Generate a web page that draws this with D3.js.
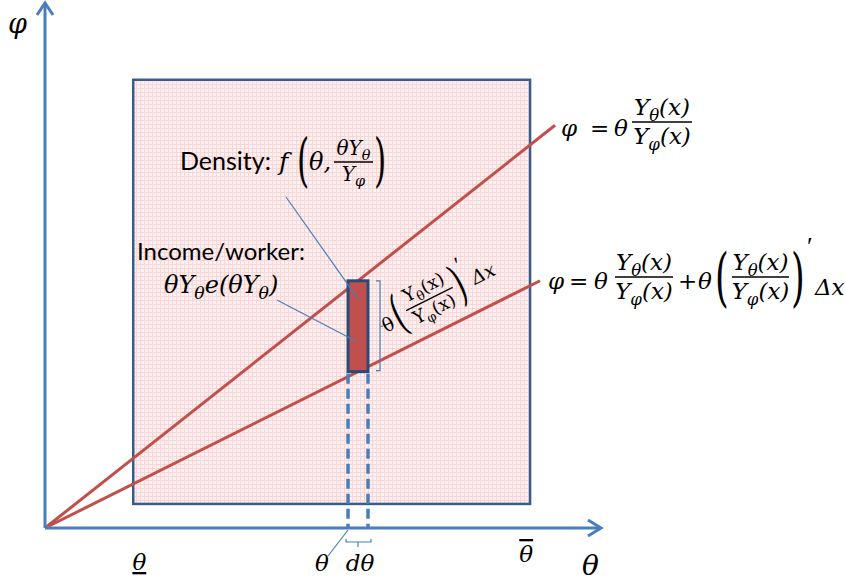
<!DOCTYPE html>
<html>
<head>
<meta charset="utf-8">
<script src="https://cdn.jsdelivr.net/npm/d3@7"></script>
<style>
  body { margin: 0; background: #fff; }
  svg { display: block; }
</style>
</head>
<body>
<svg width="846" height="583"></svg>
<script>
// diagram values (theta / phi units)
var thetaDomain = [0, 10];
var phiDomain = [0, 10];
var boxTheta = [1.59, 8.74];
var boxPhi = [0.46, 8.57];
var rayNames = ['base', 'shifted'];
var raySlopes = [0.838, 0.53];
var rayEndTheta = [9.19, 8.92];
var sliceTheta = [5.46, 5.82];
var tickTheta = [1.70, 8.67];
var tickLabels = ['θ', 'θ'];
var tickDecor = ['underline', 'overline'];

var svg = d3.select('svg'),
  width = +svg.attr('width'),
  height = +svg.attr('height');

var x = d3.scaleLinear().domain(thetaDomain).range([45, 600]);
var y = d3.scaleLinear().domain(phiDomain).range([528, 5]);

var blue = '#4a7ebb', red = '#c0504d', navy = '#385d8a';
var mathFont = 'DejaVu Serif', textFont = 'Lato';

// pink small-grid fill
var defs = svg.append('defs');
var pat = defs.append('pattern')
  .attr('id', 'grid')
  .attr('width', 4).attr('height', 4)
  .attr('patternUnits', 'userSpaceOnUse');
pat.append('rect').attr('width', 4).attr('height', 4).attr('fill', '#fdf0f0');
pat.append('path').attr('d', 'M0,0.5H4M0.5,0V4')
  .attr('stroke', '#f6d6d6').attr('stroke-width', 1);

// box
svg.append('rect')
  .attr('x', x(boxTheta[0]))
  .attr('y', y(boxPhi[1]))
  .attr('width', x(boxTheta[1]) - x(boxTheta[0]))
  .attr('height', y(boxPhi[0]) - y(boxPhi[1]))
  .attr('fill', 'url(#grid)')
  .attr('stroke', navy)
  .attr('stroke-width', 2.5);

// rays from the origin
svg.append('g')
  .selectAll('line')
  .data(rayNames)
  .enter()
  .append('line')
  .attr('x1', x(0)).attr('y1', y(0))
  .attr('x2', function (d, i) { return x(rayEndTheta[i]); })
  .attr('y2', function (d, i) { return y(rayEndTheta[i] * raySlopes[i]); })
  .attr('stroke', red)
  .attr('stroke-width', 3);

// slice
var mid = (sliceTheta[0] + sliceTheta[1]) / 2;
var sliceTop = y(mid * raySlopes[0]), sliceBot = y(mid * raySlopes[1]);

svg.append('g')
  .selectAll('line')
  .data(sliceTheta)
  .enter()
  .append('line')
  .attr('x1', function (d) { return x(d); })
  .attr('x2', function (d) { return x(d); })
  .attr('y1', sliceBot + 2)
  .attr('y2', y(0))
  .attr('stroke', blue)
  .attr('stroke-width', 3.5)
  .attr('stroke-dasharray', '10,5');

svg.append('rect')
  .attr('x', x(sliceTheta[0]))
  .attr('y', sliceTop)
  .attr('width', x(sliceTheta[1]) - x(sliceTheta[0]))
  .attr('height', sliceBot - sliceTop)
  .attr('fill', red)
  .attr('stroke', '#2a4a78')
  .attr('stroke-width', 3);

// axes with open arrow heads
var ax = svg.append('g').attr('stroke', blue).attr('stroke-width', 3).attr('fill', 'none');
ax.append('line').attr('x1', x(0)).attr('y1', y(0)).attr('x2', x(10)).attr('y2', y(0));
ax.append('line').attr('x1', x(0)).attr('y1', y(0)).attr('x2', x(0)).attr('y2', y(10) - 2);
ax.append('path').attr('d', 'M' + (x(10) - 12) + ',' + (y(0) - 8) + 'L' + (x(10) + 1) + ',' + y(0) + 'L' + (x(10) - 12) + ',' + (y(0) + 8));
ax.append('path').attr('d', 'M' + (x(0) - 8) + ',' + (y(10) + 10) + 'L' + x(0) + ',' + (y(10) - 2) + 'L' + (x(0) + 8) + ',' + (y(10) + 10));

// thin brackets and leader lines
var thin = svg.append('g').attr('stroke', blue).attr('stroke-width', 1.2).attr('fill', 'none');
var bx = x(sliceTheta[1]) + 8;
thin.append('path').attr('d', 'M' + (bx) + ',' + sliceTop + 'h4V' + (sliceBot - 1) + 'h-4M' + (bx + 4) + ',' + ((sliceTop + sliceBot) / 2) + 'h3');
thin.append('path').attr('d', 'M' + (x(sliceTheta[0]) - 2) + ',539v3H' + (x(sliceTheta[1]) + 3) + 'v-3M' + (x(mid)) + ',542v5');
thin.append('line').attr('x1', 286).attr('y1', 197).attr('x2', x(mid)).attr('y2', sliceTop + 18);
thin.append('line').attr('x1', 277).attr('y1', 300).attr('x2', x(mid) - 1).attr('y2', sliceBot - 30);
thin.append('line').attr('x1', 328).attr('y1', 556).attr('x2', x(sliceTheta[0])).attr('y2', y(0) + 2);

// math text helper: "Y_{θ}(x)" -> subscripts
function math(g, px, py, str, size, opts) {
  opts = opts || {};
  var t = g.append('text')
    .attr('x', px).attr('y', py)
    .attr('font-family', opts.font || mathFont)
    .attr('font-size', size)
    .attr('font-style', opts.upright ? 'normal' : 'italic')
    .attr('text-anchor', opts.anchor || 'start')
    .attr('fill', '#000');
  var bits = str.split(/_\{([^}]*)\}/);
  var shift = 0;
  bits.forEach(function (b, i) {
    if (!b) return;
    var sub = i % 2 === 1;
    var d = sub ? size * 0.25 : 0;
    t.append('tspan')
      .attr('dy', d - shift)
      .attr('font-size', sub ? size * 0.72 : size)
      .text(b);
    shift = d;
  });
  return t;
}
function paren(g, px, py, ch, size, sx) {
  g.append('text')
    .attr('transform', 'translate(' + px + ',' + py + ') scale(' + sx + ',1)')
    .attr('font-family', mathFont)
    .attr('font-size', size)
    .attr('fill', '#000')
    .text(ch);
}
function frac(g, x0, x1, yb, num, den, size, opts) {
  g.append('line').attr('x1', x0).attr('x2', x1).attr('y1', yb).attr('y2', yb)
    .attr('stroke', '#000').attr('stroke-width', 1.4);
  var o = Object.assign({ anchor: 'middle' }, opts || {});
  math(g, (x0 + x1) / 2, yb - 7, num, size, o);
  math(g, (x0 + x1) / 2, yb + size * 0.95, den, size, o);
}
var primeOpts = { upright: true, font: 'Liberation Serif' };

var lab = svg.append('g');

// axis titles
math(lab, 8, 33, 'φ', 27);
math(lab, 582, 575, 'θ', 28);

// theta ticks
lab.selectAll('.tick')
  .data(tickTheta)
  .enter()
  .append('text')
  .attr('class', 'tick')
  .attr('x', function (d) { return x(d); })
  .attr('y', function (d, i) { return i === 0 ? 570 : 562; })
  .attr('text-anchor', 'middle')
  .attr('font-family', mathFont)
  .attr('font-style', 'italic')
  .attr('font-size', 23)
  .style('text-decoration', function (d, i) { return tickDecor[i]; })
  .text(function (d, i) { return tickLabels[i]; });

math(lab, 322, 571, 'θ', 23, { anchor: 'middle' });
math(lab, 360, 571, 'dθ', 23, { anchor: 'middle' });

// ray equations
math(lab, 561, 136, 'φ', 23);
math(lab, 590, 136, '=', 23, { upright: true });
math(lab, 614, 136, 'θ', 23);
frac(lab, 632, 692, 122, 'Y_{θ}(x)', 'Y_{φ}(x)', 23);

math(lab, 548, 289, 'φ', 23);
math(lab, 569, 289, '=', 23, { upright: true });
math(lab, 594, 289, 'θ', 23);
frac(lab, 615, 673, 277, 'Y_{θ}(x)', 'Y_{φ}(x)', 23);
math(lab, 678, 289, '+', 23, { upright: true });
math(lab, 698, 289, 'θ', 23);
paren(lab, 715, 299, '(', 64, 0.55);
frac(lab, 732, 789, 277, 'Y_{θ}(x)', 'Y_{φ}(x)', 23);
paren(lab, 791, 299, ')', 64, 0.55);
math(lab, 807, 255, '′', 26, primeOpts);
math(lab, 815, 295, 'Δx', 23);

// density label
lab.append('text').attr('x', 180).attr('y', 170)
  .attr('font-family', textFont).attr('font-size', 25).text('Density:');
math(lab, 279, 170, 'f', 25);
paren(lab, 297, 180, '(', 57, 0.55);
math(lab, 309, 170, 'θ,', 24);
frac(lab, 334, 373, 162, 'θY_{θ}', 'Y_{φ}', 20);
paren(lab, 374, 180, ')', 57, 0.55);

// income label
lab.append('text').attr('x', 137).attr('y', 260)
  .attr('font-family', textFont).attr('font-size', 24).text('Income/worker:');
math(lab, 164, 293, 'θY_{θ}e(θY_{θ})', 24);

// rotated slice height label
var rot = lab.append('g').attr('transform', 'translate(386,333) rotate(-26.6)');
math(rot, 0, 0, 'θ', 19, { upright: true });
paren(rot, 14, 5, '(', 50, 0.55);
frac(rot, 28, 80, -11, 'Y_{θ}(x)', 'Y_{φ}(x)', 18, { upright: true });
paren(rot, 81, 5, ')', 50, 0.55);
math(rot, 93, -22, '′', 22, primeOpts);
math(rot, 101, -3, 'Δx', 19);
</script>
</body>
</html>
